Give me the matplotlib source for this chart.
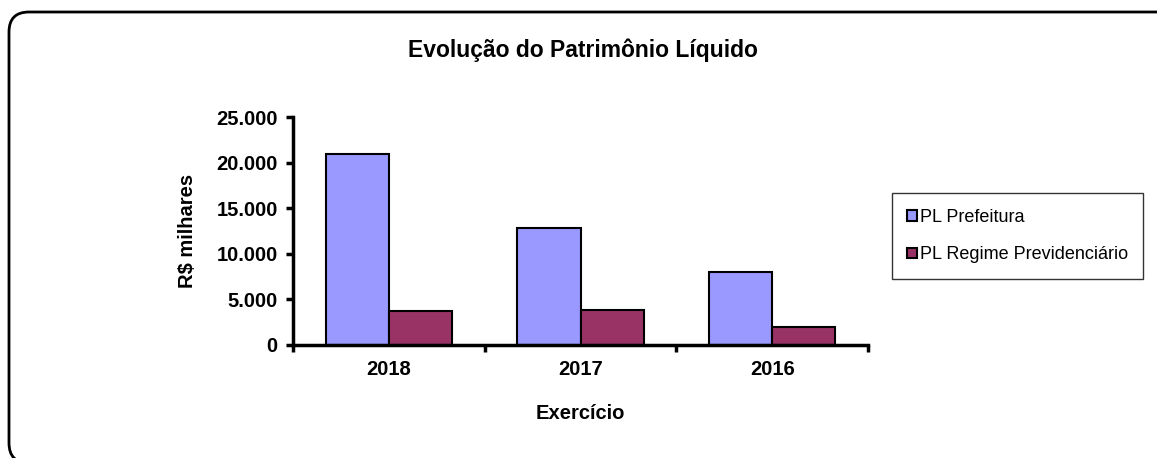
import matplotlib.pyplot as plt
import numpy as np
from matplotlib.patches import FancyBboxPatch

# dados
anos = ['2018', '2017', '2016']
pl_prefeitura = [20900, 12850, 7950]
pl_regime = [3750, 3870, 2000]
series = ['PL Prefeitura', 'PL Regime Previdenciário']
cores = ['#9999FF', '#993366']

plt.rcParams['font.family'] = ['Liberation Sans', 'DejaVu Sans']

W, H = 1157, 458
fig = plt.figure(figsize=(W / 100, H / 100), dpi=100)

# moldura arredondada
bg = fig.add_axes([0, 0, 1, 1], zorder=-1)
bg.set_xlim(0, W)
bg.set_ylim(H, 0)
bg.axis('off')
bg.add_patch(FancyBboxPatch((9, 12), 1175, 451,
                            boxstyle='round,pad=0,rounding_size=20',
                            facecolor='white', edgecolor='black', linewidth=2))

ax = fig.add_axes([293 / W, 1 - 345 / H, (868 - 293) / W, (345 - 117) / H])
x = np.arange(len(anos))
w = 0.33
ax.bar(x - w / 2, pl_prefeitura, w, color=cores[0], edgecolor='black',
       linewidth=1.5, label=series[0])
ax.bar(x + w / 2, pl_regime, w, color=cores[1], edgecolor='black',
       linewidth=1.5, label=series[1])

ax.set_xlim(-0.5, len(anos) - 0.5)
ax.set_ylim(0, 25000)
ax.set_yticks(np.arange(0, 25001, 5000))
ax.set_yticklabels(['0', '5.000', '10.000', '15.000', '20.000', '25.000'],
                   fontsize=14.5, fontweight='bold')
ax.set_xticks(np.arange(-0.5, len(anos), 1.0))
ax.set_xticklabels([])
ax.set_xticks(x, minor=True)
ax.set_xticklabels(anos, minor=True, fontsize=14.5, fontweight='bold')
ax.tick_params(axis='x', which='minor', length=0, pad=11)
ax.tick_params(axis='both', which='major', direction='out', length=5,
               width=2.5)
ax.tick_params(axis='y', pad=6)

for s in ['top', 'right']:
    ax.spines[s].set_visible(False)
for s in ['left', 'bottom']:
    ax.spines[s].set_linewidth(2.5)

ax.set_xlabel('Exercício', fontsize=14.5, fontweight='bold', labelpad=18)
ax.set_ylabel('R$ milhares', fontsize=14.5, fontweight='bold', labelpad=14)

fig.text(583 / W, 1 - 50 / H, 'Evolução do Patrimônio Líquido',
         ha='center', va='center', fontsize=16.5, fontweight='bold')

leg = ax.legend(loc='center left', bbox_to_anchor=(892 / W, 1 - 236 / H),
                bbox_transform=fig.transFigure, fontsize=13, frameon=True,
                fancybox=False, edgecolor='black', handlelength=0.55,
                handleheight=0.55, handletextpad=0.15, labelspacing=1.15,
                borderpad=0.85, borderaxespad=0)
leg.get_frame().set_linewidth(1)
for p in leg.get_patches():
    p.set_linewidth(1.5)

plt.savefig('out.png', dpi=100)
